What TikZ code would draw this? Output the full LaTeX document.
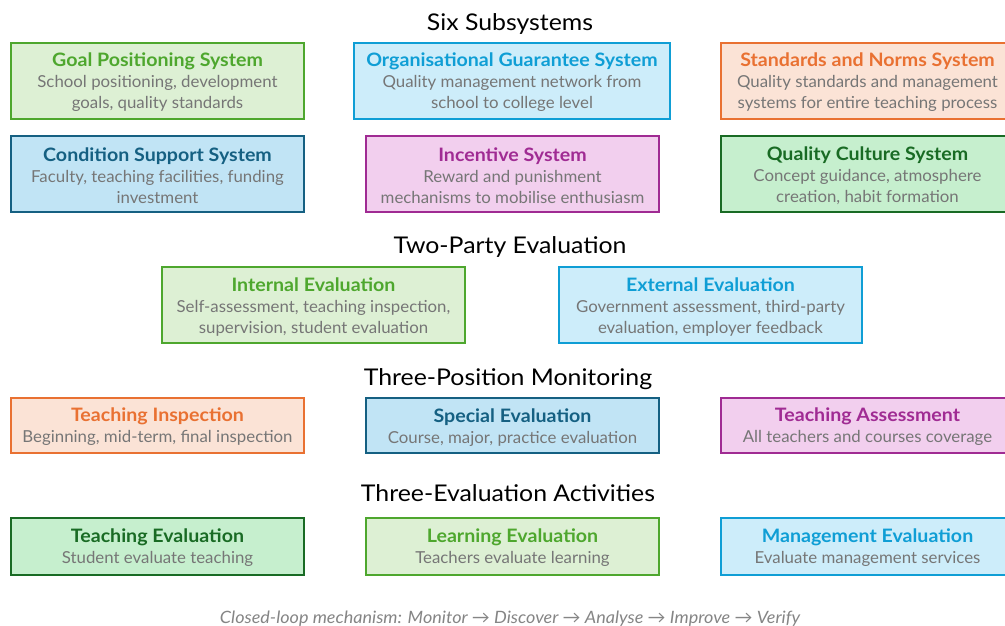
\documentclass[tikz,border=0pt]{standalone}
\usepackage{fontspec}
\setmainfont{Lato}[FakeStretch=1.02]
\newfontfamily\cardtitlefont{Lato}[FakeStretch=1.06]
\newfontfamily\sectionfont{Lato}[FakeStretch=1.08]
\newfontfamily\notefont{Lato}[FakeStretch=1.06]
\definecolor{accA}{HTML}{156082}
\definecolor{accB}{HTML}{E97132}
\definecolor{accC}{HTML}{196B24}
\definecolor{accD}{HTML}{0F9ED5}
\definecolor{accE}{HTML}{A02B93}
\definecolor{accF}{HTML}{4EA72E}
\definecolor{fillA}{HTML}{C1E4F5}
\definecolor{fillB}{HTML}{FBE3D6}
\definecolor{fillC}{HTML}{C6EFCE}
\definecolor{fillD}{HTML}{CDEDFA}
\definecolor{fillE}{HTML}{F2CFEE}
\definecolor{fillF}{HTML}{DDF0D4}
\definecolor{bodygray}{HTML}{767676}
\definecolor{notegray}{HTML}{858585}
% card heading: bold coloured first line (with a strut to sit the block a little lower)
\newcommand{\hd}[2]{{\cardtitlefont\fontsize{18.5}{21}\selectfont\bfseries\color{#1}\rule{0pt}{17pt}#2}\\}
\tikzset{
  card/.style={draw=acc#1, fill=fill#1, line width=1.6pt, rectangle, align=center,
    inner sep=0pt, text=bodygray, font=\fontsize{16.5}{21}\selectfont},
  sectiontitle/.style={text=black, font=\sectionfont\fontsize{23}{26}\selectfont},
}
\begin{document}
\begin{tikzpicture}[x=1pt,y=-1pt]
\clip (0,0) rectangle (1005,626);
\fill[white] (0,0) rectangle (1005,626);

% Six subsystems
\node[sectiontitle] (t1) at (510,24) {Six Subsystems};
\node[card=F,minimum width=293,minimum height=76] (goal) at (157.5,81)
  {\hd{accF}{Goal Positioning System}School positioning, development\\goals, quality standards};
\node[card=D,minimum width=316,minimum height=76] (org) at (512,81)
  {\hd{accD}{Organisational Guarantee System}Quality management network from\\school to college level};
\node[card=B,minimum width=293,minimum height=76] (std) at (867.5,81)
  {\hd{accB}{Standards and Norms System}Quality standards and management\\systems for entire teaching process};
\node[card=A,minimum width=293,minimum height=76] (cond) at (157.5,174)
  {\hd{accA}{Condition Support System}Faculty, teaching facilities, funding\\investment};
\node[card=E,minimum width=293,minimum height=76] (inc) at (512.5,174)
  {\hd{accE}{Incentive System}Reward and punishment\\mechanisms to mobilise enthusiasm};
\node[card=C,minimum width=293,minimum height=76] (cult) at (867.5,174)
  {\hd{accC}{Quality Culture System}Concept guidance, atmosphere\\creation, habit formation};

% Two-party evaluation
\node[sectiontitle] (t2) at (510,247) {Two-Party Evaluation};
\node[card=F,minimum width=303,minimum height=76] (int) at (313.5,305)
  {\hd{accF}{Internal Evaluation}Self-assessment, teaching inspection,\\supervision, student evaluation};
\node[card=D,minimum width=303,minimum height=76] (ext) at (710.5,305)
  {\hd{accD}{External Evaluation}Government assessment, third-party\\evaluation, employer feedback};

% Three-position monitoring
\node[sectiontitle] (t3) at (508,379) {Three-Position Monitoring};
\node[card=B,minimum width=293,minimum height=55] (insp) at (157.5,425.5)
  {\hd{accB}{Teaching Inspection}Beginning, mid-term, final inspection};
\node[card=A,minimum width=293,minimum height=55] (spec) at (512.5,425.5)
  {\hd{accA}{Special Evaluation}Course, major, practice evaluation};
\node[card=E,minimum width=293,minimum height=55] (assess) at (867.5,425.5)
  {\hd{accE}{Teaching Assessment}All teachers and courses coverage};

% Three-evaluation activities
\node[sectiontitle] (t4) at (508,493.5) {Three-Evaluation Activities};
\node[card=C,minimum width=293,minimum height=57] (teach) at (157.5,546.5)
  {\hd{accC}{Teaching Evaluation}Student evaluate teaching};
\node[card=F,minimum width=293,minimum height=57] (learn) at (512.5,546.5)
  {\hd{accF}{Learning Evaluation}Teachers evaluate learning};
\node[card=D,minimum width=293,minimum height=57] (mgmt) at (867.5,546.5)
  {\hd{accD}{Management Evaluation}Evaluate management services};

% closing note
\node[text=notegray,font=\notefont\itshape\fontsize{17}{20}\selectfont] (loop) at (510,618.5)
  {Closed-loop mechanism: Monitor \textrightarrow{} Discover \textrightarrow{} Analyse \textrightarrow{} Improve \textrightarrow{} Verify};
\end{tikzpicture}
\end{document}
